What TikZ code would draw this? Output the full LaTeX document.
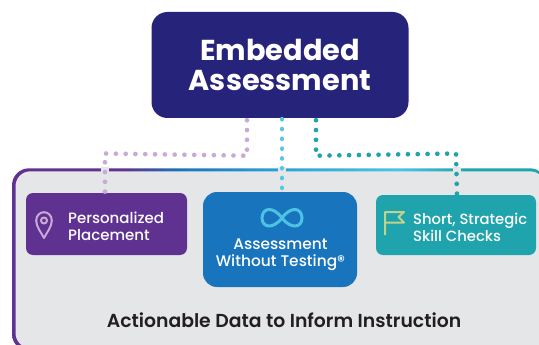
\documentclass[tikz,border=0pt]{standalone}
\usepackage{fontspec}
\setmainfont{Poppins}
\newfontfamily\popmed{Poppins Medium}
\newfontfamily\popsemi{Poppins SemiBold}
\newfontfamily\popbold{Poppins Bold}
\usetikzlibrary{calc}
\definecolor{navy}{HTML}{26237A}
\definecolor{purp}{HTML}{5F3292}
\definecolor{blu}{HTML}{1874BC}
\definecolor{midblu}{HTML}{2B9CD5}
\definecolor{teal2}{HTML}{1FA3AC}
\definecolor{panelbg}{HTML}{E5E6E8}
\definecolor{dotpurp}{HTML}{C9A9D6}
\definecolor{dotblue}{HTML}{55C5E8}
\definecolor{infcol}{HTML}{4CC3E5}
\definecolor{flagcol}{HTML}{C0D38C}
\definecolor{pincol}{HTML}{C9A9D6}
\definecolor{ink}{HTML}{231F20}
\pgfdeclarehorizontalshading{panelstroke}{100bp}{
 color(0bp)=(purp); color(36.6bp)=(purp); color(41.7bp)=(blu); color(50bp)=(midblu);
 color(62bp)=(infcol); color(68.5bp)=(teal2); color(100bp)=(teal2)}
\tikzset{
 boxstyle/.style={rounded corners=#1, inner sep=0pt, anchor=center},
 boxstyle/.default=7pt,
 label text/.style={font=\popmed\fontsize{#1}{17}\selectfont, text=white, inner sep=0pt},
 label text/.default=15,
 dotline/.style={line width=4.6pt, line cap=round, dash pattern=on 0.1pt off 9.7pt, rounded corners=0pt},
 icon/.style={line width=2pt, line join=round}
}
\begin{document}
\begin{tikzpicture}[x=1pt,y=-1pt]
\clip (0,0) rectangle (539,345);
\fill[white] (0,0) rectangle (539,345);
% panel: gradient stroke, then inner fill
\begin{scope}
\clip[rounded corners=17pt] (12,168.3) rectangle (547,351);
\shade[shading=panelstroke] (0,160) rectangle (539,345);
\end{scope}
\fill[panelbg,rounded corners=15pt] (15.5,171.3) rectangle (545,348);
% nodes
\node[boxstyle=16pt, fill=navy, minimum width=257pt, minimum height=106pt, text=white, align=center,
  font=\popbold\fontsize{28.8}{30}\selectfont] (top) at (280,65) {Embedded\\Assessment};
\node[boxstyle=7pt, fill=purp, minimum width=161pt, minimum height=62pt] (pl) at (106.5,224) {};
\node[boxstyle=14pt, fill=blu, minimum width=154pt, minimum height=95pt] (mid) at (280,239.5) {};
\node[boxstyle=7pt, fill=teal2, minimum width=160pt, minimum height=60pt] (sk) at (456,225) {};
\node[label text=15, align=left, anchor=west] (pltext) at (68,226.5) {Personalized\\Placement};
\node[label text=15.4, align=center] (midtext) at (280.5,255) {Assessment\\Without Testing®};
\node[label text=14.8, align=left, anchor=west] (sktext) at (413,227) {Short, Strategic\\Skill Checks};
\node[inner sep=0pt, text=ink, font=\popsemi\fontsize{18.8}{20}\selectfont] (foot) at (284,320) {Actionable Data to Inform Instruction};
% gaps in the panel stroke behind the dots
\fill[panelbg] (101,167.5) rectangle (109,172);
\fill[panelbg] (278,167.5) rectangle (286,172);
\fill[panelbg] (452.5,167.5) rectangle (460.5,172);
% connectors
\draw[dotline,dotpurp] ([xshift=-33pt]top.south) ++(0,2) -- ++(0,35.5) -- (105,153.5) -- ([xshift=-1.5pt]pl.north);
\draw[dotline,dotblue] ([xshift=2pt]top.south) ++(0,1) -- ([xshift=2pt]mid.north);
\draw[dotline,teal2] ([xshift=36pt]top.south) ++(0,2) -- ++(0,35.5) -- (456,153.5) -- ([xshift=1pt]sk.north);
% pin icon
\draw[icon,pincol] (44,238) .. controls (41,232) and (36.2,227) .. (36.2,220.5) .. controls (36.2,215.5) and (40,212.2) .. (44,212.2)
  .. controls (48,212.2) and (51.8,215.5) .. (51.8,220.5) .. controls (51.8,227) and (47,232) .. (44,238) -- cycle;
\draw[icon,pincol] (44,220.5) circle (3pt);
% infinity icon
\draw[line width=3pt,infcol] (282,218) .. controls (277,211) and (272,209.5) .. (269,209.5)
  .. controls (265,209.5) and (262,213) .. (262,218) .. controls (262,223) and (265,226) .. (269,226)
  .. controls (272,226) and (277,224.5) .. (282,218)
  .. controls (287,211) and (292,209.5) .. (295,209.5)
  .. controls (299,209.5) and (302,213) .. (302,218) .. controls (302,223) and (299,226) .. (295,226)
  .. controls (292,226) and (287,224.5) .. (282,218) -- cycle;
% flag icon
\draw[icon,flagcol] (385,235) -- (385,212) -- (404,212) -- (398.5,217) -- (404,222.5) -- (385,222.5);
\end{tikzpicture}
\end{document}
